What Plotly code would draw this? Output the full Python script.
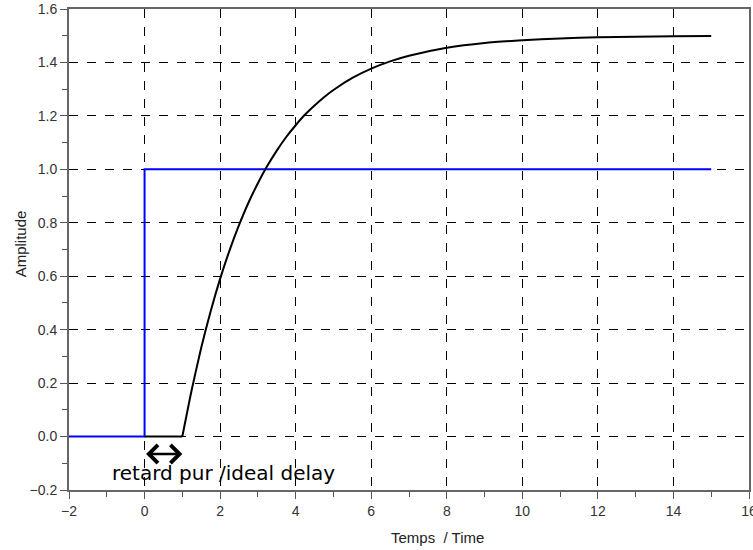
import plotly.graph_objects as go

# Input step (blue)
step_t = [-2, 0, 0, 15]
step_y = [0, 0, 1, 1]

# Pure delay segment (black)
flat_t = [0, 1]
flat_y = [0, 0]

# Delayed first-order response (black)
resp_t = [1, 1.25, 1.5, 1.75, 2, 2.25, 2.5, 2.75, 3, 3.25, 3.5, 3.75, 4, 4.25, 4.5,
          4.75, 5, 5.5, 6, 6.5, 7, 8, 9, 10, 11, 12, 13, 14, 15]
resp_y = [0, 0.176, 0.332, 0.469, 0.590, 0.697, 0.791, 0.875, 0.948, 1.013, 1.070,
          1.121, 1.165, 1.205, 1.239, 1.270, 1.297, 1.342, 1.377, 1.404, 1.425, 1.455,
          1.473, 1.483, 1.490, 1.494, 1.496, 1.498, 1.499]

delay_start, delay_end, arrow_y = 0, 1, -0.065
label_text = "retard pur /ideal delay"
x_title = "Temps\u00a0\u00a0/ Time"
y_title = "Amplitude"

fig = go.Figure()
fig.add_trace(go.Scatter(x=step_t, y=step_y, mode="lines",
                         line=dict(color="#0000ff", width=2), showlegend=False))
fig.add_trace(go.Scatter(x=flat_t, y=flat_y, mode="lines",
                         line=dict(color="black", width=2), showlegend=False))
fig.add_trace(go.Scatter(x=resp_t, y=resp_y, mode="lines",
                         line=dict(color="black", width=2, shape="spline", smoothing=0.6),
                         showlegend=False))

fig.add_annotation(x=delay_end, y=arrow_y, ax=delay_start, ay=arrow_y,
                   xref="x", yref="y", axref="x", ayref="y", text="",
                   showarrow=True, arrowhead=4, startarrowhead=4, arrowside="end+start",
                   arrowwidth=2.5, arrowsize=1.4, startarrowsize=1.4, arrowcolor="black")
fig.add_annotation(x=2.1, y=-0.135, xref="x", yref="y", text=label_text,
                   showarrow=False, font=dict(family="DejaVu Sans", size=20, color="black"))
fig.add_annotation(x=(437 - 69) / 680, y=-0.098, xref="paper", yref="paper", yanchor="middle",
                   text=x_title, showarrow=False,
                   font=dict(family="Liberation Sans, Arial", size=15, color="#222"))
fig.add_annotation(x=-0.087, y=(490 - 244) / 481, xref="paper", yref="paper", textangle=-90,
                   text=y_title, showarrow=False,
                   font=dict(family="Liberation Sans, Arial", size=15, color="#222"))

axis_common = dict(showline=True, linecolor="#666", linewidth=2, mirror=True,
                   showgrid=True, gridcolor="black", griddash="dash", gridwidth=1,
                   zeroline=False, ticks="outside", ticklen=7, tickcolor="#555", tickwidth=1,
                   ticklabeloverflow="allow",
                   tickfont=dict(family="Liberation Sans, Arial", size=14, color="#333"))

fig.update_xaxes(range=[-2, 16], dtick=2, tick0=0,
                 minor=dict(ticks="outside", dtick=1, ticklen=5, tickcolor="#555", showgrid=False),
                 **axis_common)
fig.update_yaxes(range=[-0.2, 1.6], dtick=0.2, tick0=0, tickformat=".1f",
                 minor=dict(ticks="outside", dtick=0.1, ticklen=5, tickcolor="#555", showgrid=False),
                 **axis_common)

fig.update_layout(width=753, height=550,
                  margin=dict(l=69, r=4, t=9, b=60, autoexpand=False),
                  plot_bgcolor="white", paper_bgcolor="white", showlegend=False)

post = ("document.body.style.margin='0px';document.body.style.overflow='hidden';"
        "var gd=document.getElementById('{plot_id}');"
        "Plotly.relayout(gd,{width:753,height:550});")
fig.write_html("out.html", config={"responsive": False, "displayModeBar": False},
               post_script=post)
